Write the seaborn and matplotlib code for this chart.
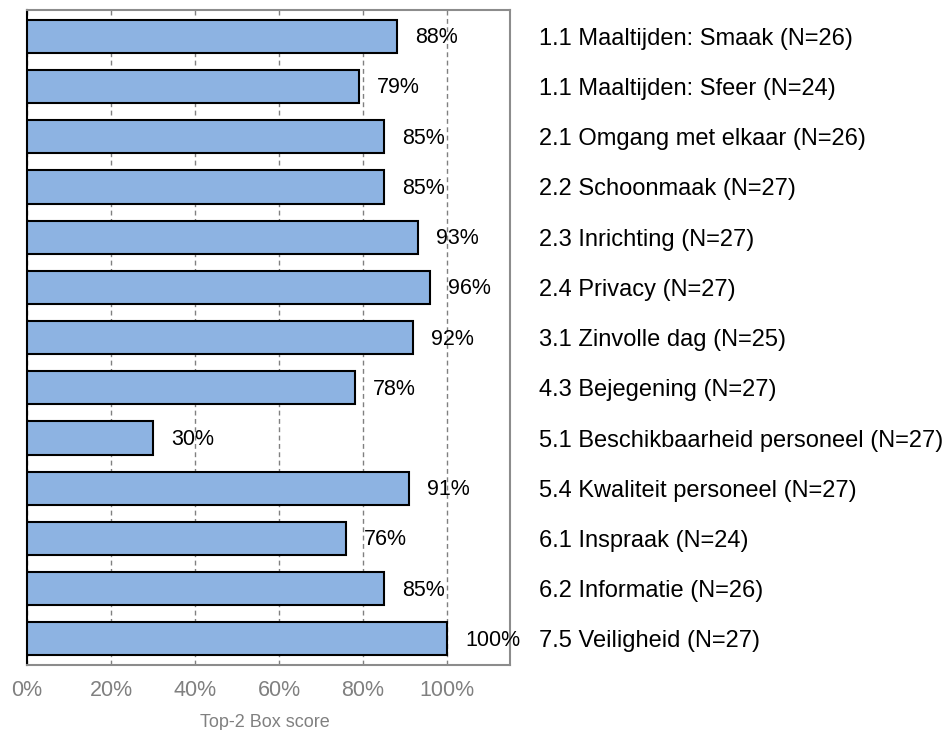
import matplotlib
matplotlib.use("Agg")
import matplotlib.pyplot as plt
import seaborn as sns
import pandas as pd
from matplotlib.ticker import FuncFormatter

sns.set_theme(style="white")
plt.rcParams["font.family"] = ["Liberation Sans", "DejaVu Sans"]

categories = [
    "1.1 Maaltijden: Smaak (N=26)",
    "1.1 Maaltijden: Sfeer (N=24)",
    "2.1 Omgang met elkaar (N=26)",
    "2.2 Schoonmaak (N=27)",
    "2.3 Inrichting (N=27)",
    "2.4 Privacy (N=27)",
    "3.1 Zinvolle dag (N=25)",
    "4.3 Bejegening (N=27)",
    "5.1 Beschikbaarheid personeel (N=27)",
    "5.4 Kwaliteit personeel (N=27)",
    "6.1 Inspraak (N=24)",
    "6.2 Informatie (N=26)",
    "7.5 Veiligheid (N=27)",
]
scores = [88, 79, 85, 85, 93, 96, 92, 78, 30, 91, 76, 85, 100]
x_ticks = [0, 20, 40, 60, 80, 100]

df = pd.DataFrame({"categorie": categories, "score": [s / 100 for s in scores]})

fig = plt.figure(figsize=(9.48, 7.30), dpi=100)
ax = fig.add_axes([0.0285, 0.089, 0.5095, 0.897])

sns.barplot(data=df, x="score", y="categorie", order=categories, orient="h",
            color="#8DB3E2", saturation=1, width=0.66,
            edgecolor="black", linewidth=1.5, ax=ax, zorder=3)

ax.set_xlim(0, 1.15)
ax.set_ylim(len(categories) - 0.48, -0.52)

ax.set_xticks([t / 100 for t in x_ticks])
ax.xaxis.set_major_formatter(FuncFormatter(lambda v, p: f"{v * 100:.0f}%"))
ax.tick_params(axis="x", length=0, pad=11, labelsize=15.5, labelcolor="#808080")
ax.grid(axis="x", color="#808080", linestyle=(0, (3.5, 2.5)), linewidth=1, zorder=0)
ax.grid(axis="y", visible=False)

ax.yaxis.tick_right()
ax.tick_params(axis="y", length=0, pad=21, labelsize=17, labelcolor="black")
for lbl in ax.get_yticklabels():
    lbl.set_horizontalalignment("left")
ax.set_ylabel("")
ax.set_xlabel("Top-2 Box score", fontsize=13, color="#808080", labelpad=9)
ax.xaxis.set_label_coords(0.493, -0.075)

for side in ["top", "right", "bottom"]:
    ax.spines[side].set_color("#8c8c8c")
    ax.spines[side].set_linewidth(1.5)
ax.spines["left"].set_color("black")
ax.spines["left"].set_linewidth(1.5)

for i, s in enumerate(scores):
    ax.annotate(f"{s}%", xy=(s / 100, i), xytext=(13, -1), textcoords="offset points",
                va="center", ha="left", fontsize=15.5, color="black", zorder=4)

fig.savefig("out.png", dpi=100)
